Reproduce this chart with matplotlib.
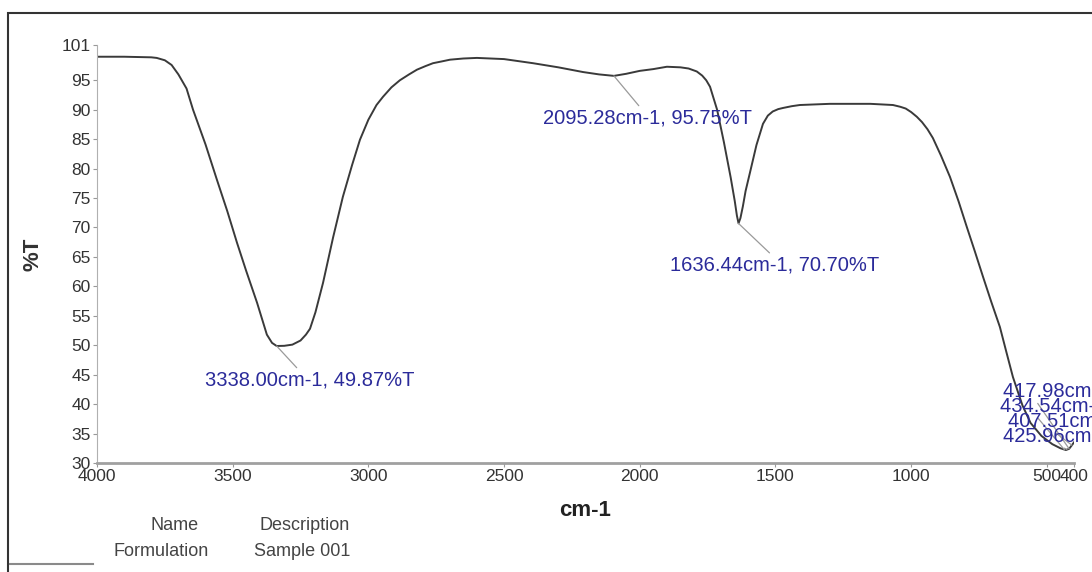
import matplotlib
matplotlib.use("Agg")
from matplotlib import pyplot as plt
from matplotlib.patches import Rectangle

plt.rcParams['font.family'] = ['Liberation Sans', 'DejaVu Sans']

# spectrum (cm-1, %T)
wavenumber = [4000, 3900, 3800, 3780, 3750, 3725, 3700, 3670, 3646, 3600, 3558, 3520,
              3484, 3450, 3410, 3390, 3374, 3355, 3338, 3310, 3280, 3250, 3230, 3215,
              3195, 3167, 3130, 3094, 3060, 3031, 3000, 2970, 2946, 2915, 2884, 2850,
              2821, 2790, 2762, 2730, 2699, 2650, 2600, 2500, 2393, 2300, 2209, 2150,
              2095, 2050, 2000, 1950, 1900, 1850, 1820, 1790, 1770, 1755, 1741, 1715,
              1690, 1665, 1650, 1642, 1636, 1629, 1620, 1610, 1594, 1570, 1546, 1528,
              1510, 1490, 1472, 1440, 1410, 1300, 1226, 1150, 1067, 1040, 1020, 1000,
              979, 960, 940, 920, 890, 857, 825, 795, 765, 735, 705, 673,
              650, 625, 590, 560, 520, 480, 450, 430, 418, 408, 400]
transmittance = [99.0, 99.0, 98.9, 98.8, 98.4, 97.6, 96.0, 93.6, 90.0, 84.1, 78.1, 72.8,
                 67.4, 62.6, 57.2, 54.2, 51.8, 50.4, 49.87, 49.9, 50.1, 50.8, 51.8, 52.8,
                 55.6, 60.6, 68.3, 75.2, 80.6, 84.9, 88.3, 90.8, 92.2, 93.8, 95.0, 96.0,
                 96.8, 97.4, 97.9, 98.2, 98.5, 98.7, 98.8, 98.6, 97.9, 97.2, 96.4, 96.0,
                 95.75, 96.1, 96.6, 96.9, 97.3, 97.2, 97.0, 96.5, 95.8, 95.0, 93.9, 90.0,
                 84.5, 78.5, 74.5, 72.0, 70.7, 71.6, 73.6, 76.2, 79.3, 84.0, 87.6, 89.0,
                 89.7, 90.1, 90.3, 90.6, 90.8, 91.0, 91.0, 91.0, 90.8, 90.5, 90.2, 89.6,
                 88.8, 87.9, 86.7, 85.2, 82.2, 78.6, 74.4, 70.1, 65.9, 61.6, 57.4, 53.1,
                 49.0, 44.6, 39.8, 36.8, 34.6, 33.2, 32.5, 32.2, 32.4, 33.0, 33.5]

# peak labels: point, label position, attach point on label
peaks = [(3338.00, 49.87), (2095.28, 95.75), (1636.44, 70.70),
         (417.98, 32.41), (434.54, 32.22), (407.51, 33.02), (425.96, 32.30)]
label_pos = [(3602, 44.1), (2357, 88.6), (1889, 63.6),
             (662, 42.2), (673, 39.7), (644, 37.1), (662, 34.6)]
label_attach = [0.45, 0.47, 0.49, 0.1, 0.1, 0.1, 0.1]

yticks = [30, 35, 40, 45, 50, 55, 60, 65, 70, 75, 80, 85, 90, 95, 101]
xticks = [4000, 3500, 3000, 2500, 2000, 1500, 1000, 500, 400]

fig = plt.figure(figsize=(10.92, 5.72), dpi=100)
ax = fig.add_axes([0.0888, 0.1906, 0.8947, 0.7308])

ax.plot(wavenumber, transmittance, color='#3a3a3a', lw=1.4)

for (wn, t), (lx, ly), rx in zip(peaks, label_pos, label_attach):
    ax.annotate('{:.2f}cm-1, {:.2f}%T'.format(wn, t), xy=(wn, t), xytext=(lx, ly),
                ha='left', va='center', fontsize=14.5, color='#2b2b9a',
                annotation_clip=False,
                arrowprops=dict(arrowstyle='-', color='#9a9a9a', lw=0.9,
                                shrinkA=0, shrinkB=0, relpos=(rx, 1.0)))

ax.set_xlim(4000, 400)
ax.set_ylim(30, 101)
ax.set_xticks(xticks)
ax.set_yticks(yticks)
ax.tick_params(axis='both', direction='out', length=3, color='#999999',
               labelsize=12.5, labelcolor='#333333', pad=1.5)
for s in ['top', 'right']:
    ax.spines[s].set_visible(False)
ax.spines['left'].set_color('#b0b0b0')
ax.spines['bottom'].set_color('#a0a0a0')
ax.spines['bottom'].set_linewidth(2)

ax.set_ylabel('%T', fontsize=16, fontweight='bold', color='#333333', labelpad=13)
ax.set_xlabel('cm-1', fontsize=16, fontweight='bold', color='#222222', labelpad=11)

# legend table under the chart
fig.text(175 / 1092, 1 - 526 / 572, 'Name', ha='center', va='center', fontsize=13, color='#444444')
fig.text(305 / 1092, 1 - 526 / 572, 'Description', ha='center', va='center', fontsize=13, color='#444444')
fig.text(161 / 1092, 1 - 552 / 572, 'Formulation', ha='center', va='center', fontsize=13, color='#444444')
fig.text(302 / 1092, 1 - 552 / 572, 'Sample 001', ha='center', va='center', fontsize=13, color='#444444')
fig.add_artist(plt.Line2D([10 / 1092, 93 / 1092], [1 - 564 / 572, 1 - 564 / 572],
                          transform=fig.transFigure, color='#8a8a8a', lw=1.5))

# outer frame
fig.add_artist(Rectangle((8 / 1092, -0.05), 1.0, 1.05 - 13 / 572, transform=fig.transFigure,
                         fill=False, ec='#333333', lw=1.5))

fig.savefig('out.png', dpi=100)
